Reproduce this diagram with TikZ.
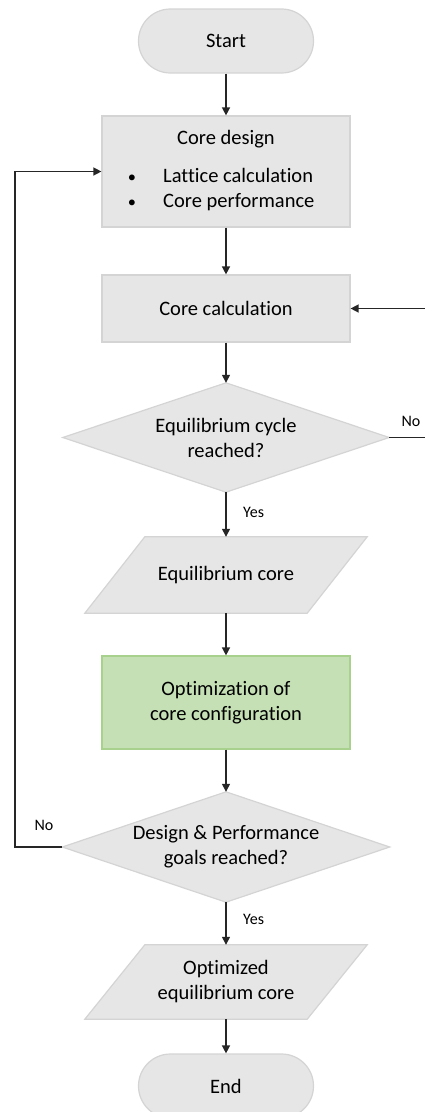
\documentclass[tikz,border=0pt]{standalone}
\usepackage{fontspec}
\setmainfont{Carlito}[Ligatures=NoCommon]
\usetikzlibrary{arrows.meta,calc}
\definecolor{boxfill}{HTML}{E6E6E6}
\definecolor{boxline}{HTML}{D4D4D4}
\definecolor{greenfill}{HTML}{C5E0B4}
\definecolor{greenline}{HTML}{A9D18E}
\definecolor{conn}{HTML}{262626}
\tikzset{
  box/.style={draw=boxline, fill=boxfill, line width=1.2pt, minimum width=248pt, inner sep=0pt, align=center, font=\fontsize{20.5}{25}\selectfont},
  pill/.style={draw=boxline, fill=boxfill, line width=1.2pt, rounded corners=31.9pt, minimum width=175pt, minimum height=64pt, inner sep=0pt, font=\fontsize{20.5}{25}\selectfont},
  shapeholder/.style={inner sep=0pt, align=center, font=\fontsize{20.5}{25}\selectfont},
  shapeline/.style={draw=boxline, fill=boxfill, line width=1.2pt},
  txt/.style={inner sep=0pt, font=\fontsize{20.5}{25}\selectfont},
  lbl/.style={inner sep=0pt, font=\fontsize{16}{19}\selectfont},
  arr/.style={draw=conn, line width=1.4pt, -{Triangle[width=8pt,length=8pt]}},
}
\begin{document}
\begin{tikzpicture}[x=1pt,y=-1pt]
\useasboundingbox (0,0) rectangle (424,1112);

% Start
\node[pill] (start) at (226,41) {Start};

% Core design
\node[box, minimum height=111pt] (design) at (226,171.5) {};
\node[txt, anchor=base] (dtitle) at (226,144) {Core design};
\node[txt, anchor=base, scale=0.8] (b1) at (132,182) {\textbullet};
\node[txt, anchor=base west] (l1) at (163,182) {Lattice calculation};
\node[txt, anchor=base, scale=0.8] (b2) at (132,207) {\textbullet};
\node[txt, anchor=base west] (l2) at (163,207) {Core performance};

% Core calculation
\node[box, minimum height=67pt] (calc) at (226,308.5) {Core calculation};

% Diamond 1
\node[shapeholder, minimum width=326pt, minimum height=109pt] (d1) at (226,437.5) {};
\path[shapeline] (d1.north) -- (d1.east) -- (d1.south) -- (d1.west) -- cycle;
\node[shapeholder] at (d1.center) {Equilibrium cycle\\reached?};

% Parallelogram 1
\node[shapeholder, minimum width=282pt, minimum height=76pt] (p1) at (226,575) {};
\path[shapeline] ($(p1.north west)+(60,0)$) -- (p1.north east) -- ($(p1.south east)+(-60,0)$) -- (p1.south west) -- cycle;
\node[shapeholder] at (p1.center) {Equilibrium core};

% Optimization
\node[box, draw=greenline, fill=greenfill, minimum height=93pt] (opt) at (226,702.5) {Optimization of\\core configuration};

% Diamond 2
\node[shapeholder, minimum width=327pt, minimum height=110pt] (d2) at (226,847) {};
\path[shapeline] (d2.north) -- (d2.east) -- (d2.south) -- (d2.west) -- cycle;
\node[shapeholder] at (d2.center) {Design \& Performance\\goals reached?};

% Parallelogram 2
\node[shapeholder, minimum width=282pt, minimum height=74pt] (p2) at (226,982) {};
\path[shapeline] ($(p2.north west)+(60,0)$) -- (p2.north east) -- ($(p2.south east)+(-60,0)$) -- (p2.south west) -- cycle;
\node[shapeholder] at (p2.center) {Optimized\\equilibrium core};

% End
\node[pill] (end) at (226,1086) {End};

% Connectors
\draw[arr] (start) -- (design);
\draw[arr] (design) -- (calc);
\draw[arr] (calc) -- (d1.north);
\draw[arr] (d1.south) -- (p1.north);
\node[lbl, anchor=west] (yes1) at (243,512) {Yes};
\draw[arr] (p1.south) -- (opt);
\draw[arr] (opt) -- (d2.north);
\draw[arr] (d2.south) -- (p2.north);
\node[lbl, anchor=west] (yes2) at (243,919) {Yes};
\draw[arr] (p2.south) -- (end);

\coordinate (loopL) at (15,847);
\draw[arr] (d2.west) -- (loopL) |- (design.west);
\node[lbl] (no2) at (44,825) {No};

\coordinate (loopR) at (432,437.5);
\draw[arr] (d1.east) -- (loopR) |- (calc.east);
\node[lbl] (no1) at (411,421) {No};
\end{tikzpicture}
\end{document}
